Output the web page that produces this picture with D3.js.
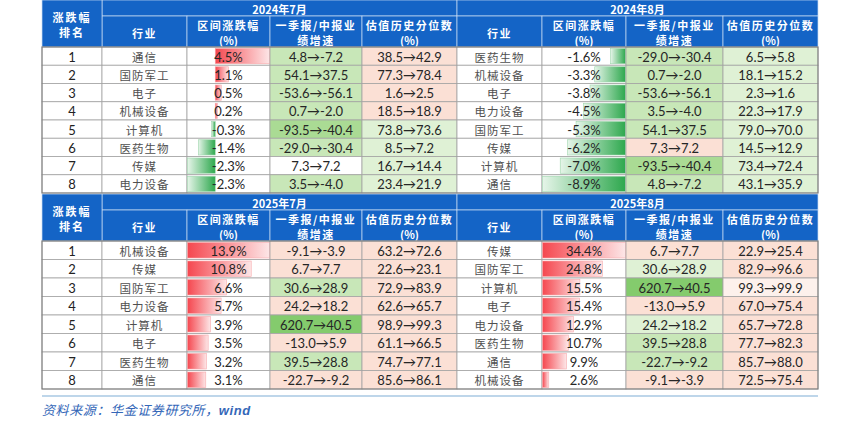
<!DOCTYPE html>
<html>
<head>
<meta charset="utf-8">
<script src="https://cdn.jsdelivr.net/npm/d3@7"></script>
<style>
  body { margin: 0; background: #fff; }
  svg { display: block; }
</style>
</head>
<body>
<svg id="chart"></svg>
<script>
// 数据：四个时间段
var titles = ["2024年7月", "2024年8月", "2025年7月", "2025年8月"];
var ranks = [1, 2, 3, 4, 5, 6, 7, 8];

var industry2407 = ["通信", "国防军工", "电子", "机械设备", "计算机", "医药生物", "传媒", "电力设备"];
var change2407 = [4.5, 1.1, 0.5, 0.2, -0.3, -1.4, -2.3, -2.3];
var growthFrom2407 = [4.8, 54.1, -53.6, 0.7, -93.5, -29.0, 7.3, 3.5];
var growthTo2407 = [-7.2, 37.5, -56.1, -2.0, -40.4, -30.4, 7.2, -4.0];
var valFrom2407 = [38.5, 77.3, 1.6, 18.5, 73.8, 8.5, 16.7, 23.4];
var valTo2407 = [42.9, 78.4, 2.5, 18.9, 73.6, 7.2, 14.4, 21.9];
var growthHeat2407 = [-2, -2, -2, -2, -3, -2, 0, -2];
var valHeat2407 = [2, 2, 2, 2, -1, -1, -1, -1];

var industry2408 = ["医药生物", "机械设备", "电子", "电力设备", "国防军工", "传媒", "计算机", "通信"];
var change2408 = [-1.6, -3.3, -3.8, -4.5, -5.3, -6.2, -7.0, -8.9];
var growthFrom2408 = [-29.0, 0.7, -53.6, 3.5, 54.1, 7.3, -93.5, 4.8];
var growthTo2408 = [-30.4, -2.0, -56.1, -4.0, 37.5, 7.2, -40.4, -7.2];
var valFrom2408 = [6.5, 18.1, 2.3, 22.3, 79.0, 14.5, 73.4, 43.1];
var valTo2408 = [5.8, 15.2, 1.6, 17.9, 70.0, 12.9, 72.4, 35.9];
var growthHeat2408 = [-2, -2, -2, -2, -2, 2, -3, -2];
var valHeat2408 = [-1, -1, -1, -1, -1, -1, -1, -1];

var industry2507 = ["机械设备", "传媒", "国防军工", "电力设备", "计算机", "电子", "医药生物", "通信"];
var change2507 = [13.9, 10.8, 6.6, 5.7, 3.9, 3.5, 3.2, 3.1];
var growthFrom2507 = [-9.1, 6.7, 30.6, 24.2, 620.7, -13.0, 39.5, -22.7];
var growthTo2507 = [-3.9, 7.7, 28.9, 18.2, 40.5, 5.9, 28.8, -9.2];
var valFrom2507 = [63.2, 22.6, 72.9, 62.6, 98.9, 61.1, 74.7, 85.6];
var valTo2507 = [72.6, 23.1, 83.9, 65.7, 99.3, 66.5, 77.1, 86.1];
var growthHeat2507 = [2, 2, -2, 2, -4, 2, -2, 2];
var valHeat2507 = [2, 2, 2, 2, 2, 2, 2, 2];

var industry2508 = ["传媒", "国防军工", "计算机", "电子", "电力设备", "医药生物", "通信", "机械设备"];
var change2508 = [34.4, 24.8, 15.5, 15.4, 12.9, 10.7, 9.9, 2.6];
var growthFrom2508 = [6.7, 30.6, 620.7, -13.0, 24.2, 39.5, -22.7, -9.1];
var growthTo2508 = [7.7, 28.9, 40.5, 5.9, 18.2, 28.8, -9.2, -3.9];
var valFrom2508 = [22.9, 82.9, 99.3, 67.0, 65.7, 77.7, 85.7, 72.5];
var valTo2508 = [25.4, 96.6, 99.9, 75.4, 72.8, 82.3, 88.0, 75.4];
var growthHeat2508 = [2, -1, -4, 2, -1, -2, -2, 2];
var valHeat2508 = [2, 2, 1, 2, 2, 2, 2, 2];

var headLabels = [["行业"], ["区间涨跌幅", "(%)"], ["一季报/中报业", "绩增速"], ["估值历史分位数", "(%)"]];
var rankHead = ["涨跌幅", "排名"];
var source = "资料来源：华金证券研究所，";

// 表格拼装
var panels = [
  { title: titles[0], industry: industry2407, change: change2407, gf: growthFrom2407, gt: growthTo2407, vf: valFrom2407, vt: valTo2407, gh: growthHeat2407, vh: valHeat2407 },
  { title: titles[1], industry: industry2408, change: change2408, gf: growthFrom2408, gt: growthTo2408, vf: valFrom2408, vt: valTo2408, gh: growthHeat2408, vh: valHeat2408 },
  { title: titles[2], industry: industry2507, change: change2507, gf: growthFrom2507, gt: growthTo2507, vf: valFrom2507, vt: valTo2507, gh: growthHeat2507, vh: valHeat2507 },
  { title: titles[3], industry: industry2508, change: change2508, gf: growthFrom2508, gt: growthTo2508, vf: valFrom2508, vt: valTo2508, gh: growthHeat2508, vh: valHeat2508 }
];

var width = 864, height = 422;
var svg = d3.select("#chart").attr("width", width).attr("height", height);

var blue = "#1464c6";
var gridColor = "#a3a3a3";
var cjk = "'Noto Sans CJK SC', sans-serif";
var num = "Lato, 'Open Sans', sans-serif";

var heatColor = d3.scaleOrdinal()
  .domain([2, 1, 0, -1, -2, -3, -4])
  .range(["#fbe0d5", "#fdf1ec", "#ffffff", "#dff1d5", "#c8e7b8", "#aadb94", "#84cb6d"]);

// 渐变数据条
var defs = svg.append("defs");
var posGrad = defs.append("linearGradient").attr("id", "posGrad")
  .attr("x1", 0).attr("x2", 1).attr("y1", 0).attr("y2", 0);
posGrad.append("stop").attr("offset", "0%").attr("stop-color", "#f5474f");
posGrad.append("stop").attr("offset", "100%").attr("stop-color", "#fde6e7");
var negGrad = defs.append("linearGradient").attr("id", "negGrad")
  .attr("x1", 1).attr("x2", 0).attr("y1", 0).attr("y2", 0);
negGrad.append("stop").attr("offset", "0%").attr("stop-color", "#2ea84e");
negGrad.append("stop").attr("offset", "100%").attr("stop-color", "#e6f5e9");

var leftCols = [102, 187, 270, 362, 457];
var rightCols = [457, 542, 626, 723, 818];
var rankCol = [42, 102];
var blocks = [
  { top: 0, titleH: 16, headH: 31, rowH: 18.25 },
  { top: 194, titleH: 16, headH: 31, rowH: 18.5 }
];

function fmt(v) { return v.toFixed(1); }

function drawPanel(p, cols, b, withRank) {
  var g = svg.append("g");
  var headTop = b.top + b.titleH;
  var bodyTop = headTop + b.headH;
  var y = d3.scaleBand().domain(d3.range(ranks.length))
    .range([bodyTop, bodyTop + ranks.length * b.rowH]);

  // 表头
  g.append("rect").attr("x", cols[0]).attr("y", b.top)
    .attr("width", cols[4] - cols[0]).attr("height", b.titleH)
    .attr("fill", blue).attr("stroke", "#c9dcf3").attr("stroke-width", 0.7);
  g.append("text").attr("x", (cols[0] + cols[4]) / 2).attr("y", b.top + b.titleH / 2 + 1)
    .attr("text-anchor", "middle").attr("dominant-baseline", "central")
    .attr("fill", "#fff").style("font", "bold 11px " + cjk)
    .text(p.title);

  headLabels.forEach(function(lines, j) {
    g.append("rect").attr("x", cols[j]).attr("y", headTop)
      .attr("width", cols[j + 1] - cols[j]).attr("height", b.headH)
      .attr("fill", blue).attr("stroke", "#c9dcf3").attr("stroke-width", 0.7);
    var cx = (cols[j] + cols[j + 1]) / 2;
    lines.forEach(function(t, k) {
      var cy = lines.length === 1 ? headTop + b.headH / 2 + 1 : headTop + 9 + k * 14.5;
      g.append("text").attr("x", cx).attr("y", cy)
        .attr("text-anchor", "middle").attr("dominant-baseline", "central")
        .attr("fill", "#fff").style("font", "bold 11px " + cjk)
        .style("letter-spacing", t === "(%)" ? "0px" : "1.5px")
        .text(t);
    });
  });

  if (withRank) {
    g.append("rect").attr("x", rankCol[0]).attr("y", b.top)
      .attr("width", rankCol[1] - rankCol[0]).attr("height", b.titleH + b.headH)
      .attr("fill", blue).attr("stroke", "#c9dcf3").attr("stroke-width", 0.7);
    rankHead.forEach(function(t, k) {
      g.append("text").attr("x", (rankCol[0] + rankCol[1]) / 2)
        .attr("y", b.top + 16.5 + k * 15)
        .attr("text-anchor", "middle").attr("dominant-baseline", "central")
        .attr("fill", "#fff").style("font", "bold 11px " + cjk)
        .style("letter-spacing", "2px")
        .text(t);
    });
  }

  // 数据条比例尺
  var x = d3.scaleLinear()
    .domain([Math.min(0, d3.min(p.change)), Math.max(0, d3.max(p.change))])
    .range([cols[1] + 0.5, cols[2] - 0.5]);

  var rows = g.selectAll("g.row").data(d3.range(ranks.length)).enter()
    .append("g").attr("class", "row");

  function cell(sel, x0, x1, fillFn) {
    sel.append("rect").attr("x", x0).attr("y", function(i) { return y(i); })
      .attr("width", x1 - x0).attr("height", y.bandwidth())
      .attr("fill", fillFn).attr("stroke", gridColor).attr("stroke-width", 0.8);
  }
  function label(sel, cx, textFn, font, color, spacing) {
    sel.append("text").attr("x", cx).attr("y", function(i) { return y(i) + y.bandwidth() / 2 + 0.5; })
      .attr("text-anchor", "middle").attr("dominant-baseline", "central")
      .attr("fill", color).style("font", font).style("letter-spacing", spacing || "0px")
      .text(textFn);
  }

  if (withRank) {
    cell(rows, rankCol[0], rankCol[1], function() { return "#fff"; });
    label(rows, (rankCol[0] + rankCol[1]) / 2, function(i) { return ranks[i]; }, "13px " + num, "#222");
  }

  // 行业
  cell(rows, cols[0], cols[1], function() { return "#fff"; });
  label(rows, (cols[0] + cols[1]) / 2, function(i) { return p.industry[i]; }, "11.5px " + cjk, "#505050", "1px");

  // 区间涨跌幅
  cell(rows, cols[1], cols[2], function() { return "#fff"; });
  rows.append("rect")
    .attr("x", function(i) { return Math.min(x(0), x(p.change[i])); })
    .attr("y", function(i) { return y(i) + 1.5; })
    .attr("width", function(i) { return Math.abs(x(p.change[i]) - x(0)); })
    .attr("height", y.bandwidth() - 3)
    .attr("fill", function(i) { return p.change[i] >= 0 ? "url(#posGrad)" : "url(#negGrad)"; })
    .attr("stroke", function(i) { return p.change[i] >= 0 ? "#f7a9ac" : "#9fd6ad"; })
    .attr("stroke-width", 0.6);
  label(rows, (cols[1] + cols[2]) / 2, function(i) { return fmt(p.change[i]) + "%"; }, "13px " + num, "#262626");

  // 业绩增速
  cell(rows, cols[2], cols[3], function(i) { return heatColor(p.gh[i]); });
  label(rows, (cols[2] + cols[3]) / 2, function(i) { return fmt(p.gf[i]) + "→" + fmt(p.gt[i]); }, "13px " + num, "#262626");

  // 估值分位
  cell(rows, cols[3], cols[4], function(i) { return heatColor(p.vh[i]); });
  label(rows, (cols[3] + cols[4]) / 2, function(i) { return fmt(p.vf[i]) + "→" + fmt(p.vt[i]); }, "13px " + num, "#262626");
}

drawPanel(panels[0], leftCols, blocks[0], true);
drawPanel(panels[1], rightCols, blocks[0], false);
drawPanel(panels[2], leftCols, blocks[1], true);
drawPanel(panels[3], rightCols, blocks[1], false);

// 外框
blocks.forEach(function(b) {
  var bodyTop = b.top + b.titleH + b.headH;
  svg.append("rect").attr("x", rankCol[0]).attr("y", bodyTop)
    .attr("width", rightCols[4] - rankCol[0]).attr("height", ranks.length * b.rowH)
    .attr("fill", "none").attr("stroke", "#7a7a7a").attr("stroke-width", 1);
});

// 资料来源
svg.append("line").attr("x1", 42).attr("x2", 818).attr("y1", 396).attr("y2", 396)
  .attr("stroke", "#a9c9e3").attr("stroke-width", 1.6);
var src = svg.append("text").attr("x", 42).attr("y", 415)
  .attr("fill", "#3467b8").style("font", "italic 13px " + cjk).style("letter-spacing", "0.6px");
src.append("tspan").text(source);
src.append("tspan").style("font", "italic bold 13px Arial, 'Liberation Sans', sans-serif").text("wind");
</script>
</body>
</html>
